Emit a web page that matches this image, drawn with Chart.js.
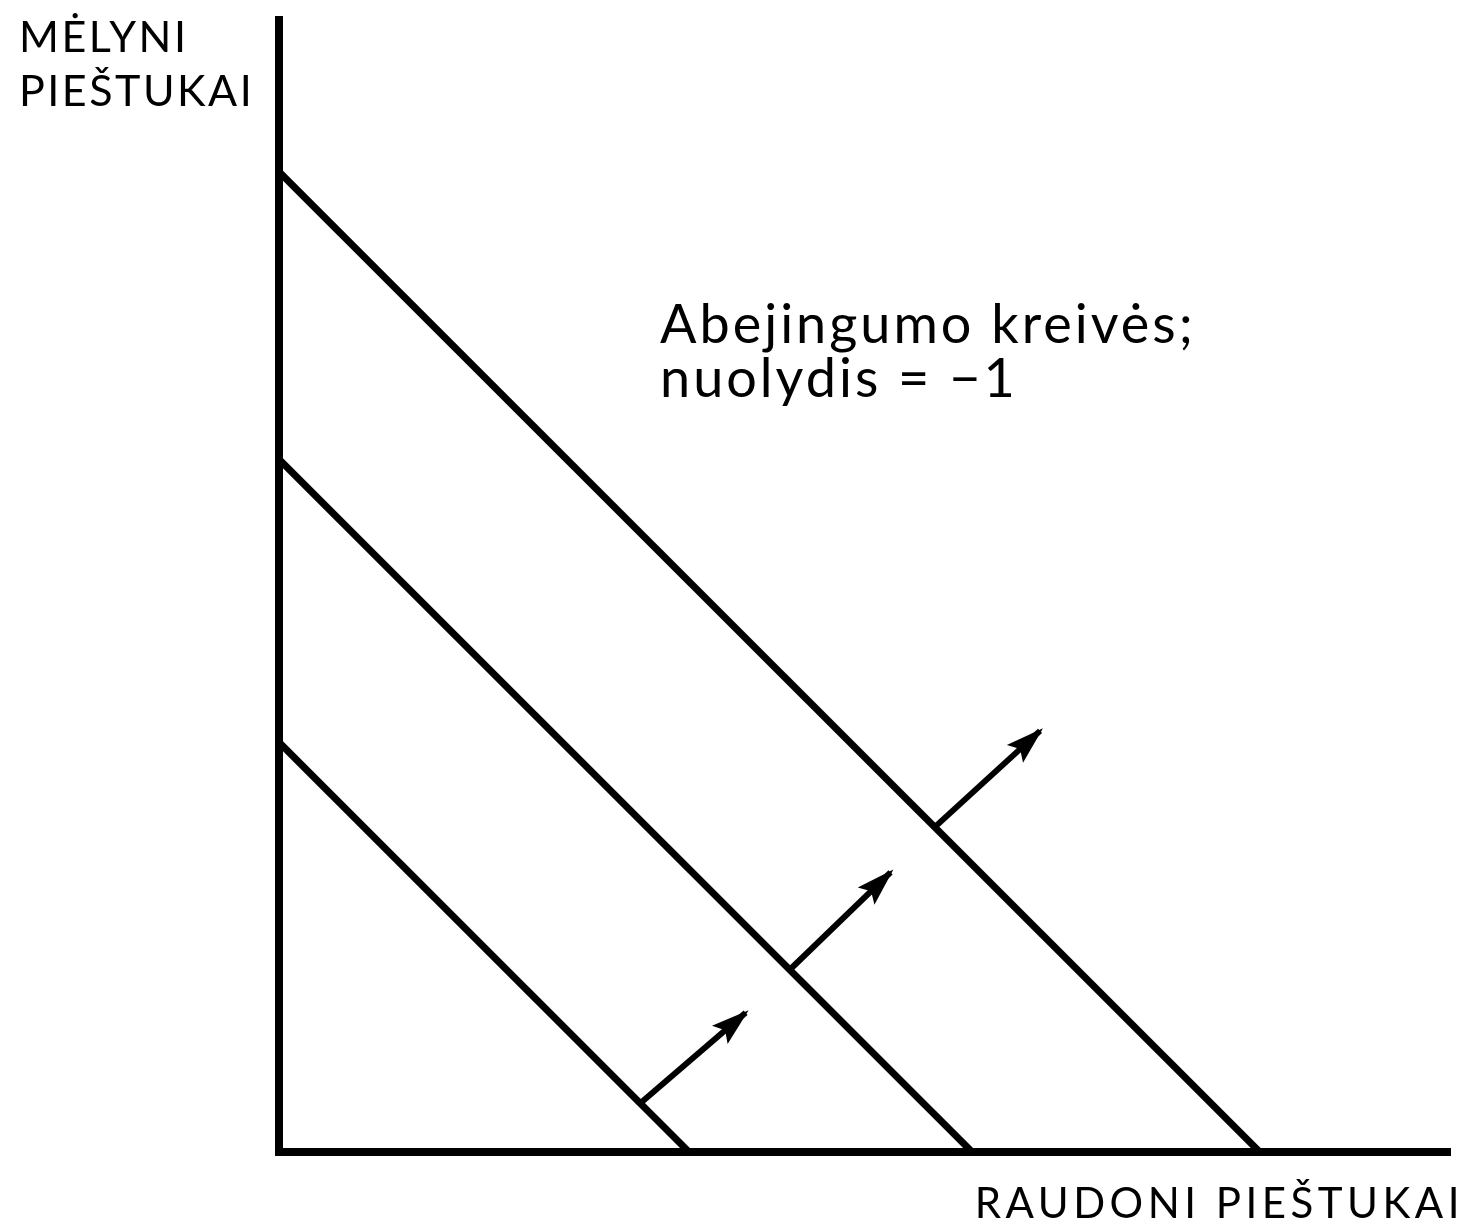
<!DOCTYPE html>
<html>
<head>
<meta charset="utf-8">
<script src="https://cdn.jsdelivr.net/npm/chart.js@4"></script>
<style>
  html, body { margin: 0; padding: 0; background: #fff; }
  #wrap { width: 1467px; height: 1226px; }
</style>
</head>
<body>
<div id="wrap"><canvas id="kreives"></canvas></div>
<script>
// indifference curves: blue = level - red (slope -1)
const levels = [36.2, 61.2, 86.6];
// arrows showing the direction of higher utility
const arrowFrom = [[31.9, 4.3], [45.1, 16.1], [57.9, 28.7]];
const arrowTo = [[41.2, 12.3], [54.0, 24.7], [67.2, 37.2]];

const yTitle = ["MĖLYNI", "PIEŠTUKAI"];
const xTitle = "RAUDONI PIEŠTUKAI";
const note = ["Abejingumo kreivės;", "nuolydis = −1"];

const datasets = [];
levels.forEach(l => {
    datasets.push({
        data: [{x: 0, y: l}, {x: l, y: 0}],
        borderColor: "#000",
        borderWidth: 7,
        pointRadius: 0,
        borderCapStyle: "butt"
    });
});
arrowFrom.forEach((a, i) => {
    datasets.push({
        data: [{x: a[0], y: a[1]}, {x: arrowTo[i][0], y: arrowTo[i][1]}],
        borderColor: "#000",
        borderWidth: 6,
        pointRadius: 0,
        isArrow: true
    });
});

const extras = {
    id: "extras",
    afterDatasetsDraw(chart) {
        const c = chart.ctx;
        c.save();
        c.fillStyle = "#000";
        // arrow heads at the end of each arrow dataset
        chart.data.datasets.forEach((ds, i) => {
            if (!ds.isArrow) return;
            const pts = chart.getDatasetMeta(i).data;
            const p0 = pts[0], p1 = pts[1];
            const ang = Math.atan2(p1.y - p0.y, p1.x - p0.x);
            const len = 34, half = 12;
            c.save();
            c.translate(p1.x, p1.y);
            c.rotate(ang);
            c.beginPath();
            c.moveTo(4, 0);
            c.lineTo(-len, -half);
            c.lineTo(-len + 7, 0);
            c.lineTo(-len, half);
            c.closePath();
            c.fill();
            c.restore();
        });

        c.textBaseline = "alphabetic";
        c.font = "43px Lato";
        c.letterSpacing = "2.5px";
        c.textAlign = "left";
        c.fillText(yTitle[0], 19, 52);
        c.fillText(yTitle[1], 19, 106);
        c.textAlign = "right";
        c.font = "42px Lato";
        c.letterSpacing = "4.5px";
        c.fillText(xTitle, 1464, 1218);
        c.textAlign = "left";
        c.font = "54px Lato";
        c.letterSpacing = "3px";
        c.fillText(note[0], 660, 343);
        c.fillText(note[1], 660, 397);
        c.restore();
    }
};

new Chart(document.getElementById("kreives"), {
    type: "line",
    data: { datasets: datasets },
    options: {
        responsive: true,
        maintainAspectRatio: false,
        animation: false,
        layout: { padding: { left: 279, right: 17, top: 20, bottom: 74 } },
        plugins: { legend: { display: false }, tooltip: { enabled: false } },
        scales: {
            x: {
                type: "linear",
                min: 0,
                max: 103.4,
                grid: { display: false, drawTicks: false },
                ticks: { display: false },
                border: { display: true, color: "#000", width: 8 }
            },
            y: {
                type: "linear",
                min: 0,
                max: 100,
                grid: { display: false, drawTicks: false },
                ticks: { display: false },
                border: { display: true, color: "#000", width: 8 }
            }
        }
    },
    plugins: [extras]
});
</script>
</body>
</html>
